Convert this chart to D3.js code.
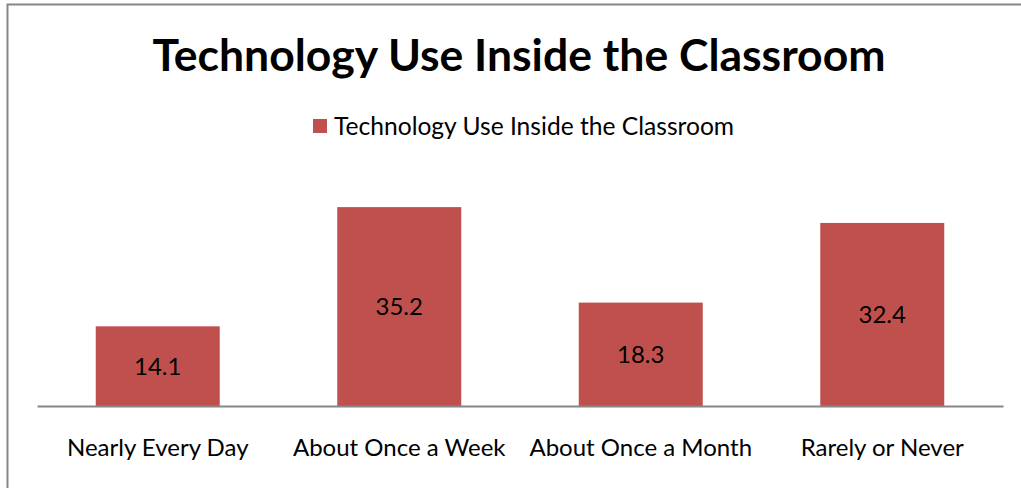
<!DOCTYPE html>
<html>
<head>
<meta charset="utf-8">
<script src="https://d3js.org/d3.v7.min.js"></script>
<style>
  html, body { margin: 0; padding: 0; background: #fff; }
  svg { display: block; font-family: Lato, "Open Sans", sans-serif; }
</style>
</head>
<body>
<svg id="chart" width="1021" height="488"></svg>
<script>
var title = "Technology Use Inside the Classroom";
var seriesName = "Technology Use Inside the Classroom";
var categories = ["Nearly Every Day", "About Once a Week", "About Once a Month", "Rarely or Never"];
var values = [14.1, 35.2, 18.3, 32.4];

var barColor = "#c0504d";
var svg = d3.select("#chart");

// outer frame (right and bottom edges run past the window)
svg.append("rect")
    .attr("x", 7.5).attr("y", 4.5)
    .attr("width", 1030).attr("height", 500)
    .attr("fill", "#fff")
    .attr("stroke", "#868686")
    .attr("stroke-width", 2);

var x = d3.scaleBand()
    .domain(categories)
    .range([37, 1003])
    .paddingInner(0.4866)
    .paddingOuter(0.2433);

var y = d3.scaleLinear()
    .domain([0, 40])
    .range([406, 180]);

svg.append("text")
    .attr("x", 519).attr("y", 71)
    .attr("text-anchor", "middle")
    .attr("font-size", 44.5)
    .attr("font-weight", "bold")
    .attr("fill", "#000")
    .text(title);

// legend
var legend = svg.append("g");
legend.append("rect")
    .attr("x", 313).attr("y", 119)
    .attr("width", 14).attr("height", 14)
    .attr("fill", barColor);
legend.append("text")
    .attr("x", 334).attr("y", 135)
    .attr("font-size", 24.6)
    .attr("fill", "#000")
    .text(seriesName);

svg.selectAll("rect.bar")
    .data(values)
    .enter()
    .append("rect")
    .attr("class", "bar")
    .attr("x", function (d, i) { return x(categories[i]); })
    .attr("y", function (d) { return y(d); })
    .attr("width", x.bandwidth())
    .attr("height", function (d) { return y(0) - y(d); })
    .attr("fill", barColor);

svg.selectAll("text.val")
    .data(values)
    .enter()
    .append("text")
    .attr("class", "val")
    .attr("x", function (d, i) { return x(categories[i]) + x.bandwidth() / 2; })
    .attr("y", function (d) { return (y(d) + y(0)) / 2; })
    .attr("dy", "0.35em")
    .attr("text-anchor", "middle")
    .attr("font-size", 24)
    .attr("fill", "#000")
    .text(function (d) { return d.toFixed(1); });

// category axis
var xAxis = svg.append("g")
    .attr("transform", "translate(0," + y(0) + ")")
    .call(d3.axisBottom(x).tickSize(0).tickPadding(33));
xAxis.select(".domain").attr("stroke", "#868686").attr("stroke-width", 2);
xAxis.selectAll("text")
    .attr("font-size", 24)
    .attr("font-family", "Lato, 'Open Sans', sans-serif")
    .attr("fill", "#000");
</script>
</body>
</html>
